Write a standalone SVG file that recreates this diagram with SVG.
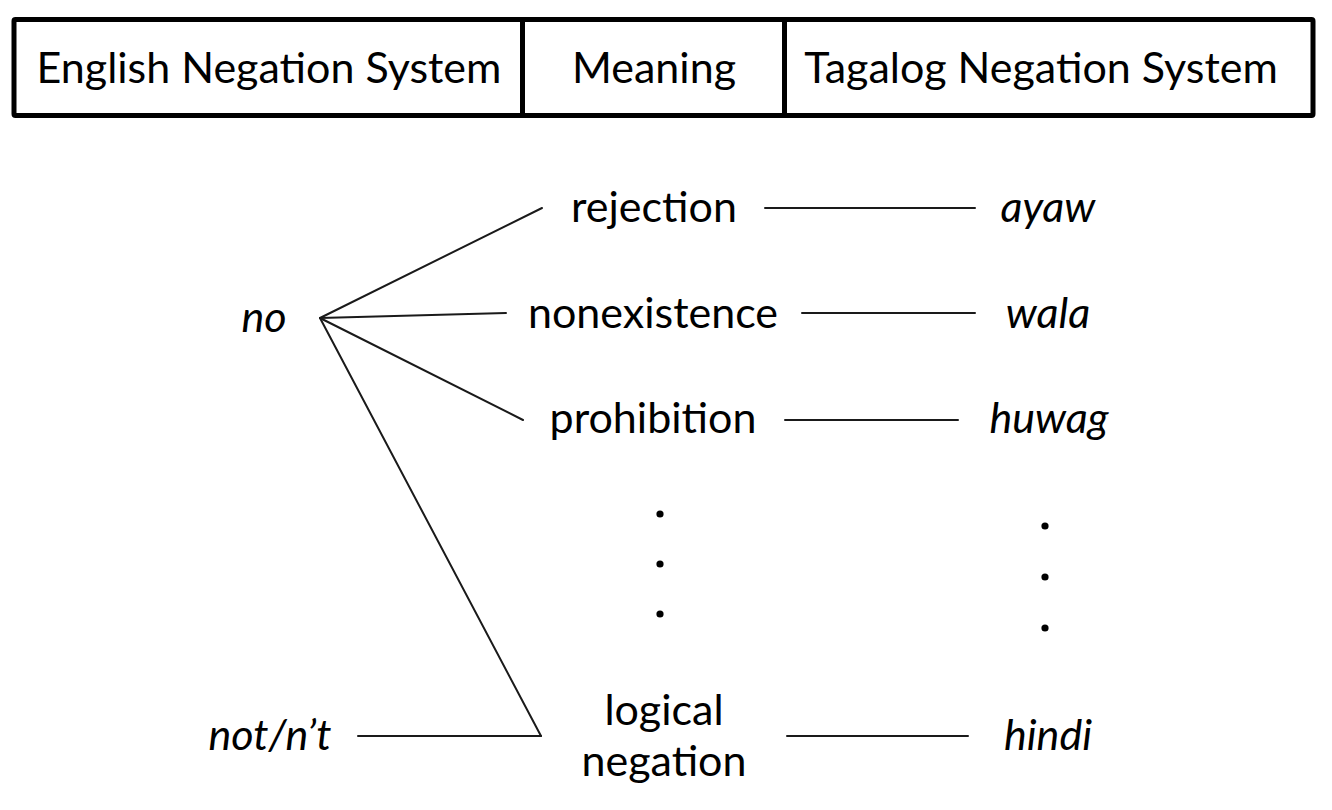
<svg xmlns="http://www.w3.org/2000/svg" width="1332" height="810" viewBox="0 0 1332 810">
<style>
.t{font-family:Lato,"Noto Sans",sans-serif;font-size:43px;fill:#000;text-anchor:middle}
.i{font-style:italic}
.c line{stroke:#1a1a1a;stroke-width:2;stroke-linecap:round}
.hdr{fill:#fff;stroke:#000;stroke-width:5}
.dot{fill:#000}
</style>
<rect width="1332" height="810" fill="#fff"/>
<g id="header">
<rect class="hdr" x="14" y="19.5" width="1299" height="96" rx="1.5"/>
<line x1="522.5" y1="19.5" x2="522.5" y2="115.5" stroke="#000" stroke-width="5"/>
<line x1="784.5" y1="19.5" x2="784.5" y2="115.5" stroke="#000" stroke-width="5"/>
<text class="t" x="269" y="83">English Negation System</text>
<text class="t" x="654" y="83">Meaning</text>
<text class="t" x="1041" y="83">Tagalog Negation System</text>
</g>
<g class="c" id="connectors">
<line x1="320" y1="318" x2="542" y2="208"/>
<line x1="320" y1="318" x2="506" y2="313"/>
<line x1="320" y1="318" x2="523" y2="420"/>
<line x1="320" y1="318" x2="541" y2="736"/>
<line x1="358" y1="736" x2="541" y2="736"/>
<line x1="765" y1="208" x2="975" y2="208"/>
<line x1="802" y1="313" x2="975" y2="313"/>
<line x1="785" y1="420" x2="958" y2="420"/>
<line x1="787" y1="736" x2="968" y2="736"/>
</g>
<g id="no"><text class="t i" x="264" y="332">no</text></g>
<g id="not"><text class="t i" x="270" y="750">not/n’t</text></g>
<g id="rejection"><text class="t" x="654" y="222">rejection</text></g>
<g id="nonexistence"><text class="t" x="653" y="328">nonexistence</text></g>
<g id="prohibition"><text class="t" x="653" y="433">prohibition</text></g>
<g id="logical-negation"><text class="t" x="664" y="725">logical</text><text class="t" x="664" y="776">negation</text></g>
<g id="ayaw"><text class="t i" x="1048" y="222">ayaw</text></g>
<g id="wala"><text class="t i" x="1048" y="328">wala</text></g>
<g id="huwag"><text class="t i" x="1049" y="433">huwag</text></g>
<g id="hindi"><text class="t i" x="1048" y="750">hindi</text></g>
<g id="dots-meaning"><circle class="dot" cx="660" cy="514" r="3.6"/><circle class="dot" cx="660" cy="564" r="3.6"/><circle class="dot" cx="660" cy="614" r="3.6"/></g>
<g id="dots-tagalog"><circle class="dot" cx="1045" cy="526" r="3.6"/><circle class="dot" cx="1045" cy="577" r="3.6"/><circle class="dot" cx="1045" cy="628" r="3.6"/></g>
</svg>
